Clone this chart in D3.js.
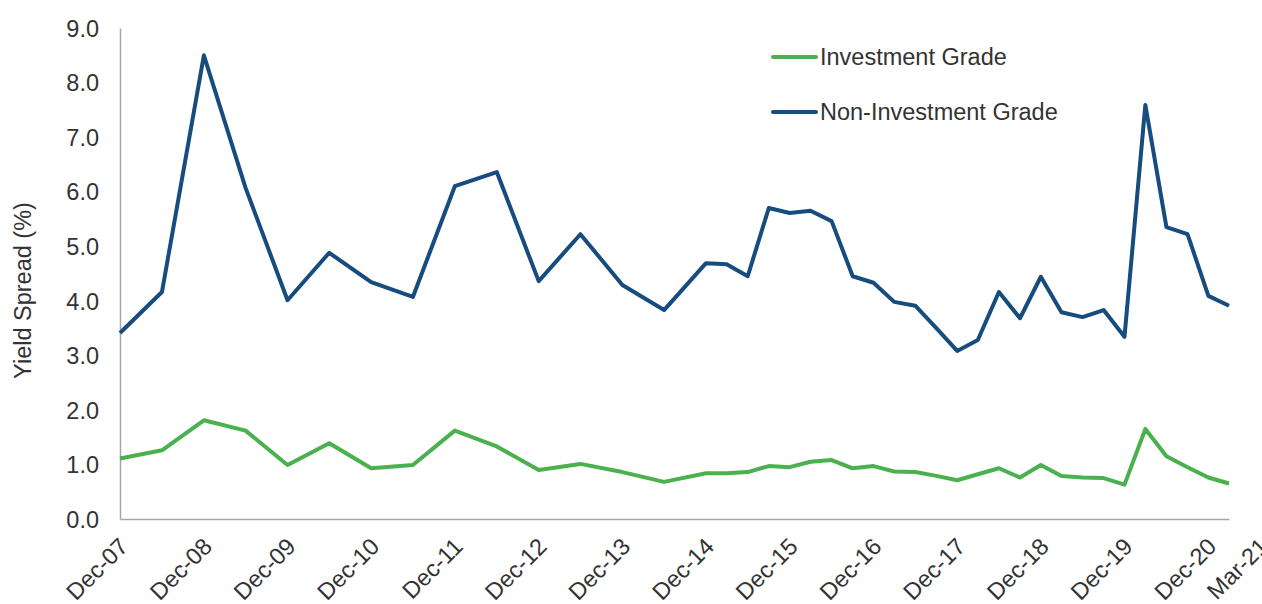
<!DOCTYPE html>
<html>
<head>
<meta charset="utf-8">
<script src="https://cdn.jsdelivr.net/npm/d3@7"></script>
<style>
  body { margin: 0; background: #fff; }
  text { font-family: "Liberation Sans", Arial, sans-serif; fill: #333; }
</style>
</head>
<body>
<div id="chart"></div>
<script>
// quarter-end observations (semi-annual until Dec-14, quarterly after)
const dates = [
  "Dec-07", "Jun-08", "Dec-08", "Jun-09", "Dec-09", "Jun-10", "Dec-10", "Jun-11",
  "Dec-11", "Jun-12", "Dec-12", "Jun-13", "Dec-13", "Jun-14", "Dec-14",
  "Mar-15", "Jun-15", "Sep-15", "Dec-15", "Mar-16", "Jun-16", "Sep-16", "Dec-16",
  "Mar-17", "Jun-17", "Sep-17", "Dec-17", "Mar-18", "Jun-18", "Sep-18", "Dec-18",
  "Mar-19", "Jun-19", "Sep-19", "Dec-19", "Mar-20", "Jun-20", "Sep-20", "Dec-20",
  "Mar-21"
];
const investmentGrade = [
  1.11, 1.26, 1.81, 1.62, 0.99, 1.39, 0.93, 0.99,
  1.62, 1.33, 0.90, 1.01, 0.86, 0.68, 0.84,
  0.84, 0.86, 0.97, 0.95, 1.05, 1.08, 0.93, 0.97,
  0.87, 0.86, 0.79, 0.71, 0.82, 0.93, 0.76, 0.99,
  0.79, 0.76, 0.75, 0.63, 1.65, 1.15, 0.95, 0.76,
  0.65
];
const nonInvestmentGrade = [
  3.41, 4.16, 8.50, 6.07, 4.01, 4.88, 4.34, 4.07,
  6.10, 6.36, 4.36, 5.22, 4.29, 3.83, 4.69,
  4.67, 4.45, 5.70, 5.61, 5.65, 5.46, 4.45, 4.33,
  3.98, 3.91, 3.50, 3.08, 3.28, 4.16, 3.68, 4.44,
  3.79, 3.70, 3.83, 3.34, 7.59, 5.35, 5.22, 4.09,
  3.91
];
const xTickLabels = [
  "Dec-07", "Dec-08", "Dec-09", "Dec-10", "Dec-11", "Dec-12", "Dec-13",
  "Dec-14", "Dec-15", "Dec-16", "Dec-17", "Dec-18", "Dec-19", "Dec-20", "Mar-21"
];
const yTicks = [0, 1, 2, 3, 4, 5, 6, 7, 8, 9];
const seriesNames = ["Investment Grade", "Non-Investment Grade"];
const seriesColors = ["#4ab14e", "#174c7e"];

const parseDate = d3.timeParse("%b-%y");
const fontSize = "23.5px";

// set the dimensions and margins of the graph
const margin = { top: 28, right: 33, bottom: 85, left: 120 },
  width = 1262 - margin.left - margin.right,
  height = 604 - margin.top - margin.bottom;

const x = d3.scaleTime()
  .domain([parseDate(dates[0]), parseDate(dates[dates.length - 1])])
  .range([0, width]);
const y = d3.scaleLinear().domain([0, 9]).range([height, 0]);

const svg = d3.select("#chart")
  .append("svg")
  .attr("width", 1262)
  .attr("height", 604)
  .append("g")
  .attr("transform", "translate(" + margin.left + "," + margin.top + ")");

// y axis
const yAxis = svg.append("g")
  .call(d3.axisLeft(y).tickValues(yTicks).tickFormat(d3.format(".1f")).tickSize(0).tickPadding(21));
yAxis.select(".domain").attr("stroke", "#a6a6a6").attr("stroke-width", 1.5);
yAxis.selectAll("text").style("font-size", fontSize).attr("dy", "0.35em");

// x axis
const xAxis = svg.append("g")
  .attr("transform", "translate(0," + height + ")")
  .call(d3.axisBottom(x).tickValues(xTickLabels.map(parseDate)).tickFormat(d3.timeFormat("%b-%y")).tickSize(0));
xAxis.select(".domain").attr("stroke", "#a6a6a6").attr("stroke-width", 1.5);
xAxis.selectAll("text")
  .style("font-size", fontSize)
  .style("text-anchor", "end")
  .attr("dy", null)
  .attr("y", 0)
  .attr("transform", (d, i) => {
    // last label sits a bit further right in the original
    const shift = i === xTickLabels.length - 1 ? 31 : 0;
    return "translate(" + (9 + shift) + ",29) rotate(-45)";
  });

// y axis label
svg.append("text")
  .attr("transform", "rotate(-90)")
  .attr("x", -height / 2 - 17)
  .attr("y", -margin.left + 31)
  .style("text-anchor", "middle")
  .style("font-size", fontSize)
  .text("Yield Spread (%)");

// lines
const line = (values) => d3.line()
  .x((d, i) => x(parseDate(dates[i])))
  .y((d) => y(d))(values);

[investmentGrade, nonInvestmentGrade].forEach((values, i) => {
  svg.append("path")
    .attr("fill", "none")
    .attr("stroke", seriesColors[i])
    .attr("stroke-width", 4)
    .attr("stroke-linejoin", "round")
    .attr("d", line(values));
});

// legend
const legend = svg.append("g").attr("transform", "translate(653,29)");
seriesNames.forEach((name, i) => {
  const g = legend.append("g").attr("transform", "translate(0," + i * 55 + ")");
  g.append("line")
    .attr("x1", 0).attr("x2", 43)
    .attr("stroke", seriesColors[i])
    .attr("stroke-width", 4)
    .attr("stroke-linecap", "round");
  g.append("text")
    .attr("x", 47)
    .attr("y", 8)
    .style("font-size", fontSize)
    .text(name);
});
</script>
</body>
</html>
